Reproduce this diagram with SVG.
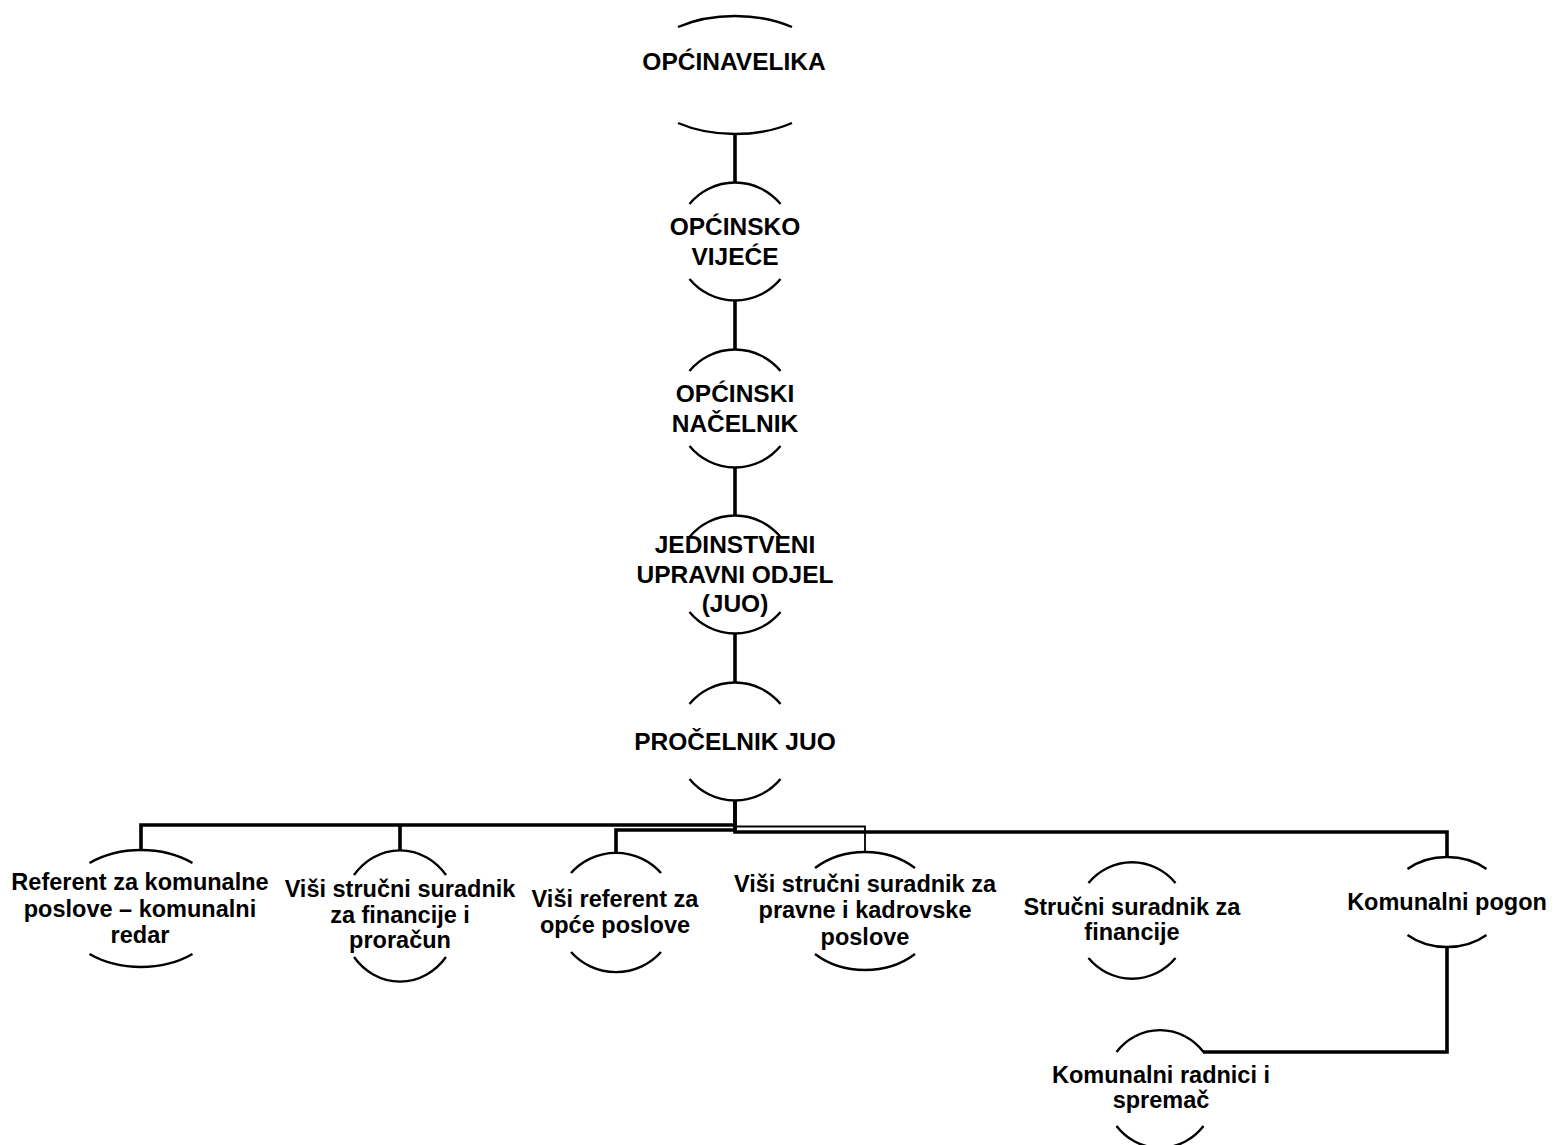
<svg xmlns="http://www.w3.org/2000/svg" width="1568" height="1145" viewBox="0 0 1568 1145">
<style>
.arc{fill:none;stroke:#000;stroke-width:2.4}
.c{fill:none;stroke:#000;stroke-width:3.6}
.ct{fill:none;stroke:#000;stroke-width:1.8}
.t{font-family:"Liberation Sans",Arial,sans-serif;font-weight:bold;font-size:24.5px;fill:#000;text-anchor:middle}
.s{font-family:"Liberation Sans",Arial,sans-serif;font-weight:bold;font-size:23.5px;fill:#000;text-anchor:middle}
</style>
<rect width="1568" height="1145" fill="#fff"/>
<g id="connectors">
<path class="c" d="M735,134 V183"/>
<path class="c" d="M735,300 V350"/>
<path class="c" d="M735,467 V516"/>
<path class="c" d="M735,633 V683"/>
<path class="c" d="M735,800 V825 H141 V850"/>
<path class="c" d="M400,825 V850"/>
<path class="c" d="M735,825 V830 H616 V853"/>
<path class="ct" d="M735,826.5 H865 V852"/>
<path class="c" d="M735,800 V832 H1447 V857"/>
<path class="c" d="M1447,947 V1052 H1203"/>
</g>
<g id="node-opcina">
<path class="arc" d="M678,27 A98,59 0 0 1 792,27"/>
<path class="arc" d="M678,123 A98,59 0 0 0 792,123"/>
<text class="t" x="734" y="70">OPĆINAVELIKA</text>
</g>
<g id="node-vijece">
<path class="arc" d="M689.5,204 A59,59 0 0 1 780.5,204"/>
<path class="arc" d="M689.5,279 A59,59 0 0 0 780.5,279"/>
<text class="t" x="735" y="235">OPĆINSKO</text>
<text class="t" x="735" y="265">VIJEĆE</text>
</g>
<g id="node-nacelnik">
<path class="arc" d="M689.5,371 A59,59 0 0 1 780.5,371"/>
<path class="arc" d="M689.5,446 A59,59 0 0 0 780.5,446"/>
<text class="t" x="735" y="402">OPĆINSKI</text>
<text class="t" x="735" y="432">NAČELNIK</text>
</g>
<g id="node-juo">
<path class="arc" d="M689.5,537 A59,59 0 0 1 780.5,537"/>
<path class="arc" d="M689.5,612 A59,59 0 0 0 780.5,612"/>
<text class="t" x="735" y="553">JEDINSTVENI</text>
<text class="t" x="735" y="583">UPRAVNI ODJEL</text>
<text class="t" x="735" y="612">(JUO)</text>
</g>
<g id="node-procelnik">
<path class="arc" d="M689.5,704 A59,59 0 0 1 780.5,704"/>
<path class="arc" d="M689.5,779 A59,59 0 0 0 780.5,779"/>
<text class="t" x="735" y="750">PROČELNIK JUO</text>
</g>
<g id="node-referent-komunalni">
<path class="arc" d="M89.5,863 A82,58.5 0 0 1 192.5,863"/>
<path class="arc" d="M89.5,954 A82,58.5 0 0 0 192.5,954"/>
<text class="s" x="140" y="890">Referent za komunalne</text>
<text class="s" x="140" y="917">poslove – komunalni</text>
<text class="s" x="140" y="943">redar</text>
</g>
<g id="node-visi-financije">
<path class="arc" d="M354,875 A59,66 0 0 1 446,875"/>
<path class="arc" d="M354,957 A59,66 0 0 0 446,957"/>
<text class="s" x="400" y="897">Viši stručni suradnik</text>
<text class="s" x="400" y="923">za financije i</text>
<text class="s" x="400" y="948">proračun</text>
</g>
<g id="node-visi-referent">
<path class="arc" d="M571,873 A60,59.5 0 0 1 661,873"/>
<path class="arc" d="M571,952 A60,59.5 0 0 0 661,952"/>
<text class="s" x="615" y="907">Viši referent za</text>
<text class="s" x="615" y="933">opće poslove</text>
</g>
<g id="node-visi-pravne">
<path class="arc" d="M815,868 A73,59 0 0 1 915,868"/>
<path class="arc" d="M815,954 A73,59 0 0 0 915,954"/>
<text class="s" x="865" y="892">Viši stručni suradnik za</text>
<text class="s" x="865" y="918">pravne i kadrovske</text>
<text class="s" x="865" y="945">poslove</text>
</g>
<g id="node-strucni-financije">
<path class="arc" d="M1088.5,883 A57,58.5 0 0 1 1175.5,883"/>
<path class="arc" d="M1088.5,958 A57,58.5 0 0 0 1175.5,958"/>
<text class="s" x="1132" y="915">Stručni suradnik za</text>
<text class="s" x="1132" y="940">financije</text>
</g>
<g id="node-komunalni-pogon">
<path class="arc" d="M1407.5,869 A58,45 0 0 1 1486.5,869"/>
<path class="arc" d="M1407.5,935 A58,45 0 0 0 1486.5,935"/>
<text class="s" x="1447" y="910">Komunalni pogon</text>
</g>
<g id="node-komunalni-radnici">
<path class="arc" d="M1116.5,1052 A56,59 0 0 1 1203.5,1052"/>
<path class="arc" d="M1116.5,1126 A56,59 0 0 0 1203.5,1126"/>
<text class="s" x="1161" y="1083">Komunalni radnici i</text>
<text class="s" x="1161" y="1108">spremač</text>
</g>
</svg>
